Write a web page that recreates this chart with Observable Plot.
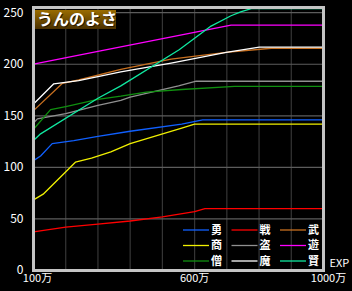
<!DOCTYPE html>
<html><head><meta charset="utf-8">
<script src="https://cdn.jsdelivr.net/npm/d3@7"></script>
<script src="https://cdn.jsdelivr.net/npm/@observablehq/plot@0.6"></script>
<style>
html,body{margin:0;padding:0;background:#000;}
</style>
</head><body>
<div id="chart"></div>
<script>
// ---- data ----
const classNames = ["勇","戦","武","商","盗","遊","僧","魔","賢"];
const classColors = ["#1060ff","#ff0000","#c87020","#f0f000","#909090","#ff00ff","#109010","#ffffff","#10e8a0"];
const yuusha  = [[100,106.5],[122,111],[158,123],[225,126],[300,130],[400,135],[560,142],[625,146],[1000,146]];
const senshi  = [[100,37.5],[200,42],[300,45],[400,48],[500,52],[600,57],[632,60],[1000,60]];
const butouka = [[100,155],[190,181.5],[240,184.7],[371,195],[527,205],[698,211.5],[838,215.5],[1000,215.5]];
const shounin = [[100,68.5],[130,74],[230,105],[280,109],[340,115],[400,123],[560,138],[600,142],[1000,142]];
const touzoku = [[100,143],[112,147],[200,152],[300,160],[371,165],[400,168],[550,179],[605,183.5],[1000,183.5]];
const asobi   = [[100,200],[300,212.4],[552,228],[713,238],[1000,238]];
const souryo  = [[100,137],[153,156],[200,159],[300,166],[371,169],[450,173],[560,175.5],[724,178.6],[1000,178.6]];
const mahou   = [[100,161.5],[163,181],[240,184],[371,192.5],[527,201],[698,211.5],[801,216.5],[1000,216.5]];
const kenja   = [[100,126],[122,132.5],[300,167],[371,179],[552,214],[651,237],[713,247],[745,251],[776,254],[1000,254]];
const seriesList = [yuusha,senshi,butouka,shounin,touzoku,asobi,souryo,mahou,kenja];
const xGrid = [200,300,400,500,600,700,800,900];
const yTicks = [0,50,100,150,200,250];
const xTicks = [100,600,1000];
const xTickLabels = ["100万","600万","1000万"];
const titleText = "うんのよさ";
const xAxisLabel = "EXP";

const rows = [];
seriesList.forEach((s,i)=>s.forEach(([x,y])=>rows.push({cls:classNames[i],x,y})));

const font = "'Noto Sans CJK JP', 'Noto Sans', sans-serif";
const svg = Plot.plot({
  width:352, height:291,
  marginLeft:33, marginRight:29, marginTop:7, marginBottom:21,
  style:{background:"#000", color:"#fff", fontFamily:font, fontSize:"11px"},
  x:{domain:[100,1000], label:null},
  y:{domain:[0,255], label:null},
  color:{domain:classNames, range:classColors},
  marks:[
    Plot.ruleX(xGrid,{stroke:"#363636", strokeWidth:1.2}),
    Plot.ruleY(yTicks.filter(d=>d>0),{stroke:"#5c5c5c", strokeWidth:1.2}),
    Plot.line(rows,{x:"x", y:"y", z:"cls", stroke:"cls", strokeWidth:1.3, clip:true}),
    Plot.frame({stroke:"#c4c4c4", strokeWidth:3}),
    Plot.axisY(yTicks,{tickSize:0, tickPadding:10, fill:"#fff", fontSize:12, label:null}),
    Plot.axisX(xTicks,{tickSize:0, tickPadding:4, fill:"#fff", fontSize:11, label:null,
      tickFormat:d=>xTickLabels[xTicks.indexOf(d)]}),
    Plot.text([xAxisLabel],{frameAnchor:"bottom-right", textAnchor:"start", lineAnchor:"middle",
      dx:6, dy:-7, fill:"#fff", fontSize:11})
  ]
});
document.getElementById("chart").appendChild(svg);

// nudge edge x tick labels like the reference
const s = d3.select(svg);
s.selectAll("[aria-label='x-axis tick label'] text").attr("dx",(d,i)=> i===0 ? 4 : i===2 ? 5 : 0);

// title box
const defs = s.append("defs");
const g = defs.append("linearGradient").attr("id","tg").attr("x1",0).attr("y1",0).attr("x2",0).attr("y2",1);
g.append("stop").attr("offset","0%").attr("stop-color","#9a6c00");
g.append("stop").attr("offset","100%").attr("stop-color","#4a3000");
s.append("rect").attr("x",35).attr("y",10).attr("width",81).attr("height",19).attr("fill","url(#tg)");
s.append("text").attr("x",37).attr("y",19.5).attr("dy","0.36em").text(titleText).attr("text-anchor","start")
  .attr("fill","#2a1800").attr("font-size",16).attr("font-weight","bold").attr("font-family",font)
  .attr("transform","translate(1,1)");
s.append("text").attr("x",37).attr("y",19.5).attr("dy","0.36em").text(titleText).attr("text-anchor","start")
  .attr("fill","#fff").attr("font-size",16).attr("font-weight","bold").attr("font-family",font);

// legend (3 columns x 3 rows)
const leg = s.append("g").attr("font-family",font).attr("font-size",11).attr("font-weight","bold")
  .attr("text-anchor","start");
classNames.forEach((n,i)=>{
  const col = i%3, row = Math.floor(i/3);
  const x0 = 183 + col*48.5, y0 = 230 + row*15.5;
  leg.append("line").attr("x1",x0).attr("x2",x0+26).attr("y1",y0).attr("y2",y0)
    .attr("stroke",classColors[i]).attr("stroke-width",1.3);
  leg.append("text").attr("x",x0+28).attr("y",y0).attr("dy","0.36em").attr("fill","#fff").text(n);
});
</script>
</body></html>
